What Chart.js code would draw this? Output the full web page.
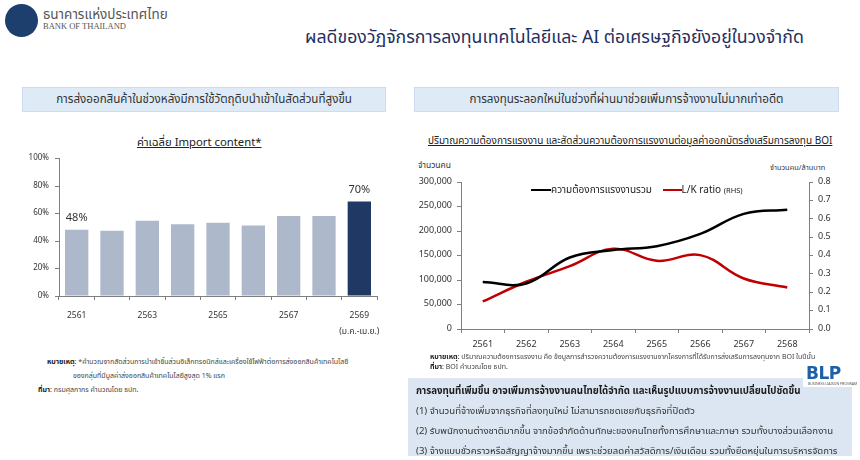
<!DOCTYPE html>
<html>
<head>
<meta charset="utf-8">
<script src="https://cdn.jsdelivr.net/npm/chart.js@4.4.1/dist/chart.umd.min.js"></script>
<style>
  body { margin: 0; background: #fff; font-family: Tahoma, "Noto Sans Thai", "Leelawadee UI", "Noto Sans", sans-serif; color: #333; }
  #page { position: relative; width: 860px; height: 460px; overflow: hidden; }
  .abs { position: absolute; white-space: nowrap; }
  .hdr { position: absolute; background: #deebf7; border: 1px solid #cddcee; height: 23px; line-height: 23px; text-align: center; font-size: 11.6px; color: #333; }
  canvas { position: absolute; }
  .note { font-size: 7px; color: #444; }
  .note b { color: #222; }
</style>
</head>
<body>
<div id="page">
  <!-- logo -->
  <div class="abs" style="left:5px;top:4px;width:33px;height:33px;border-radius:50%;background:#1c3f6e;"></div>
  <div class="abs" style="left:43px;top:5px;font-size:13.5px;color:#555;">ธนาคารแห่งประเทศไทย</div>
  <div class="abs" style="left:43px;top:21px;font-size:8.5px;color:#555;font-family:'Liberation Serif',serif;">BANK OF THAILAND</div>

  <div class="abs" style="left:305px;top:24px;font-size:17.7px;color:#1f3060;">ผลดีของวัฏจักรการลงทุนเทคโนโลยีและ AI ต่อเศรษฐกิจยังอยู่ในวงจำกัด</div>

  <div class="hdr" style="left:22px;top:87px;width:362px;">การส่งออกสินค้าในช่วงหลังมีการใช้วัตถุดิบนำเข้าในสัดส่วนที่สูงขึ้น</div>
  <div class="hdr" style="left:414px;top:87px;width:423px;">การลงทุนระลอกใหม่ในช่วงที่ผ่านมาช่วยเพิ่มการจ้างงานไม่มากเท่าอดีต</div>

  <!-- left chart -->
  <div class="abs" style="left:137px;top:134px;font-size:11.3px;text-decoration:underline;color:#222;">ค่าเฉลี่ย Import content*</div>
  <canvas id="importChart" width="380" height="195" style="left:10px;top:148px;"></canvas>
  <div class="abs note" style="left:47px;top:357px;"><b>หมายเหตุ</b>: *คำนวณจากสัดส่วนการนำเข้าชิ้นส่วนอิเล็กทรอนิกส์และเครื่องใช้ไฟฟ้าต่อการส่งออกสินค้าเทคโนโลยี</div>
  <div class="abs note" style="left:73px;top:371px;">ของกลุ่มที่มีมูลค่าส่งออกสินค้าเทคโนโลยีสูงสุด 1% แรก</div>
  <div class="abs note" style="left:38px;top:385px;"><b>ที่มา</b>: กรมศุลกากร คำนวณโดย ธปท.</div>

  <!-- right chart -->
  <div class="abs" style="left:428px;top:133px;font-size:10px;text-decoration:underline;color:#222;">ปริมาณความต้องการแรงงาน และสัดส่วนความต้องการแรงงานต่อมูลค่าออกบัตรส่งเสริมการลงทุน BOI</div>
  <div class="abs" style="left:418px;top:159px;font-size:8.5px;color:#333;">จำนวนคน</div>
  <div class="abs" style="left:770px;top:162px;font-size:7.4px;color:#333;">จำนวนคน/ล้านบาท</div>
  <canvas id="labourChart" width="440" height="184" style="left:410px;top:170px;"></canvas>
  <div class="abs" style="left:531px;top:182px;font-size:10px;color:#222;">
    <span style="display:inline-block;width:20px;height:2.5px;background:#000;vertical-align:middle;"></span>ความต้องการแรงงานรวม
    <span style="display:inline-block;width:19px;height:2.5px;background:#c00000;vertical-align:middle;margin-left:8px;"></span>L/K ratio <span style="font-size:7.5px;">(RHS)</span>
  </div>
  <div class="abs note" style="left:430px;top:352px;"><b>หมายเหตุ</b>: ปริมาณความต้องการแรงงาน คือ ข้อมูลการสำรวจความต้องการแรงงานจากโครงการที่ได้รับการส่งเสริมการลงทุนจาก BOI ในปีนั้น</div>
  <div class="abs note" style="left:430px;top:362px;"><b>ที่มา</b>: BOI คำนวณโดย ธปท.</div>

  <!-- summary box -->
  <div class="abs" style="left:408px;top:378px;width:444px;height:78px;background:#dce6f2;"></div>
  <div class="abs" style="left:803px;top:366px;width:50px;height:21px;background:#fff;"></div>
  <div class="abs" style="left:416px;top:384px;font-size:9.7px;font-weight:bold;color:#1a1a1a;">การลงทุนที่เพิ่มขึ้น อาจเพิ่มการจ้างงานคนไทยได้จำกัด และเห็นรูปแบบการจ้างงานเปลี่ยนไปชัดขึ้น</div>
  <div class="abs" style="left:416px;top:404px;font-size:9.6px;color:#333;">(1) จำนวนที่จ้างเพิ่มจากธุรกิจที่ลงทุนใหม่ ไม่สามารถชดเชยกับธุรกิจที่ปิดตัว</div>
  <div class="abs" style="left:416px;top:424px;font-size:9.6px;color:#333;">(2) รับพนักงานต่างชาติมากขึ้น จากข้อจำกัดด้านทักษะของคนไทยทั้งการศึกษาและภาษา รวมทั้งบางส่วนเลือกงาน</div>
  <div class="abs" style="left:416px;top:444px;font-size:9.6px;color:#333;">(3) จ้างแบบชั่วคราวหรือสัญญาจ้างมากขึ้น เพราะช่วยลดค่าสวัสดิการ/เงินเดือน รวมทั้งยืดหยุ่นในการบริหารจัดการ</div>
  <div class="abs" style="left:806px;top:363px;font-size:17px;font-weight:bold;color:#1f5fa8;font-family:'DejaVu Sans',sans-serif;letter-spacing:-0.5px;">BLP</div>
  <div class="abs" style="left:808px;top:381px;font-size:3.5px;color:#555;">BUSINESS LIAISON PROGRAM</div>
</div>

<script>
// left chart: average import content (%)
var importYears = ['2561', '2562', '2563', '2564', '2565', '2566', '2567', '2568', '2569'];
var importContent = [48.2, 47.6, 54.8, 52.3, 53.4, 51.3, 58.3, 58.3, 68.8];
var importLabels = ['48%', '', '', '', '', '', '', '', '70%'];
var importTicks = [0, 20, 40, 60, 80, 100];

// right chart: labour demand (persons) and L/K ratio (persons per million baht)
var labourYears = ['2561', '2562', '2563', '2564', '2565', '2566', '2567', '2568'];
var labourDemand = [96000, 93000, 146000, 161000, 169000, 194000, 235000, 243500];
var lkRatio = [0.15, 0.257, 0.342, 0.437, 0.371, 0.402, 0.275, 0.226];

Chart.defaults.font.family = 'Tahoma, "Noto Sans Thai", "Leelawadee UI", "Noto Sans", sans-serif';
Chart.defaults.color = '#333';

var axisColor = '#7f7f7f';

var barLabelPlugin = {
    id: 'barLabels',
    afterDatasetsDraw: function(chart) {
        var ctx = chart.ctx;
        var meta = chart.getDatasetMeta(0);
        ctx.save();
        ctx.font = '11px Tahoma, "Noto Sans Thai", sans-serif';
        ctx.fillStyle = '#333';
        ctx.textAlign = 'center';
        ctx.textBaseline = 'middle';
        meta.data.forEach(function(bar, i) {
            if (importLabels[i]) {
                ctx.fillText(importLabels[i], bar.x, bar.y - 11);
            }
        });
        ctx.restore();
    }
};

var barColors = importYears.map(function(y, i) {
    return i == importYears.length - 1 ? '#1f3864' : '#adb9ca';
});

var ctx = document.getElementById('importChart').getContext('2d');
var importChart = new Chart(ctx, {
    type: 'bar',
    data: {
        labels: importYears.map(function(y, i) {
            return i == importYears.length - 1 ? [y, '(ม.ค.-เม.ย.)'] : y;
        }),
        datasets: [{
            data: importContent,
            backgroundColor: barColors,
            categoryPercentage: 1,
            barPercentage: 0.66
        }]
    },
    options: {
        responsive: false,
        animation: false,
        layout: { padding: { top: 8, right: 13, left: 0, bottom: 0 } },
        plugins: { legend: { display: false }, tooltip: { enabled: false } },
        scales: {
            x: {
                grid: { display: true, drawOnChartArea: false, tickLength: 4, color: axisColor, offset: true },
                border: { color: axisColor },
                ticks: {
                    autoSkip: false,
                    maxRotation: 0,
                    padding: 8,
                    font: { size: 8.5, lineHeight: 1.9 },
                    callback: function(v, i) {
                        return i % 2 == 0 ? this.getLabelForValue(v) : '';
                    }
                },
                afterFit: function(s) { s.height = 47; }
            },
            y: {
                min: 0,
                max: 100,
                afterBuildTicks: function(s) {
                    s.ticks = importTicks.map(function(v) { return { value: v }; });
                },
                grid: { display: true, drawOnChartArea: false, tickLength: 4, color: axisColor },
                border: { color: axisColor },
                ticks: {
                    padding: 6,
                    font: { size: 8 },
                    callback: function(v) { return v + '%'; }
                },
                afterFit: function(s) { s.width = 49; }
            }
        }
    },
    plugins: [barLabelPlugin]
});

var ctx = document.getElementById('labourChart').getContext('2d');
var labourChart = new Chart(ctx, {
    type: 'line',
    data: {
        labels: labourYears,
        datasets: [{
            label: 'ความต้องการแรงงานรวม',
            data: labourDemand,
            borderColor: '#000000',
            borderWidth: 2.5,
            pointRadius: 0,
            tension: 0.4,
            yAxisID: 'y'
        }, {
            label: 'L/K ratio (RHS)',
            data: lkRatio,
            borderColor: '#c00000',
            borderWidth: 2.5,
            pointRadius: 0,
            tension: 0.4,
            yAxisID: 'y1'
        }]
    },
    options: {
        responsive: false,
        animation: false,
        layout: { padding: { top: 12, right: 0, left: 0, bottom: 0 } },
        plugins: { legend: { display: false }, tooltip: { enabled: false } },
        scales: {
            x: {
                offset: true,
                grid: { display: true, drawOnChartArea: false, tickLength: 4, color: axisColor, offset: true },
                border: { color: axisColor },
                ticks: { maxRotation: 0, padding: 7, font: { size: 9 } },
                afterFit: function(s) { s.height = 25; }
            },
            y: {
                position: 'left',
                min: 0,
                max: 300000,
                grid: { display: true, drawOnChartArea: false, tickLength: 4, color: axisColor },
                border: { color: axisColor },
                ticks: {
                    stepSize: 50000,
                    padding: 5,
                    font: { size: 9 },
                    callback: function(v) { return v.toLocaleString('en-US'); }
                },
                afterFit: function(s) { s.width = 51; }
            },
            y1: {
                position: 'right',
                min: 0,
                max: 0.8,
                grid: { display: true, drawOnChartArea: false, tickLength: 4, color: axisColor },
                border: { color: axisColor },
                ticks: {
                    stepSize: 0.1,
                    padding: 5,
                    font: { size: 9 },
                    callback: function(v) { return v.toFixed(1); }
                },
                afterFit: function(s) { s.width = 41; }
            }
        }
    }
});
</script>
</body>
</html>
